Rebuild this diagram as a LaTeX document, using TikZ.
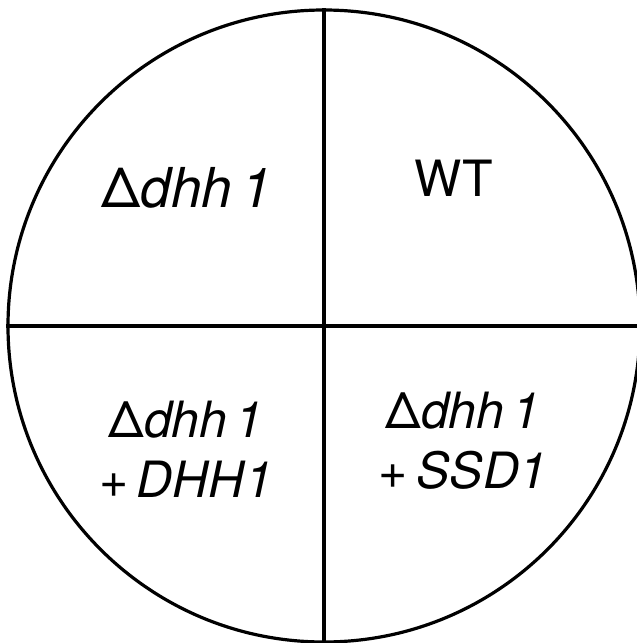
\documentclass[tikz,border=0pt]{standalone}
\usepackage{fontspec}
\setmainfont{TeX Gyre Heros}
\usepackage{tikz}

\newcommand{\dhhdel}{{\upshape\symbol{"0394}}\textit{dhh\,1}}

\begin{document}
\begin{tikzpicture}[x=1pt,y=-1pt]
\useasboundingbox (0,0) rectangle (637,643);

% the plate and its four sectors
\node (plate) [circle,draw,line width=3.2pt,minimum size=632pt,inner sep=0pt] at (324,326) {};
\draw [line width=3.2pt] (plate.north) -- (plate.south);
\draw [line width=3.2pt] (plate.west) -- (plate.east);

\begin{scope}[every node/.style={align=center,inner sep=0pt}]
  \node (mut) [font=\fontsize{55}{60}\selectfont] at (187,188) {\dhhdel};
  \node (wt) [font=\fontsize{50}{54}\selectfont] at (454,178) {WT};
  \node (mutdhh) [font=\fontsize{50}{60}\selectfont] at (186,449) {\dhhdel\\ +\,\textit{DHH1}};
  \node (mutssd) [font=\fontsize{50}{60}\selectfont] at (463,441) {\dhhdel\\ +\,\textit{SSD1}};
\end{scope}
\end{tikzpicture}
\end{document}
